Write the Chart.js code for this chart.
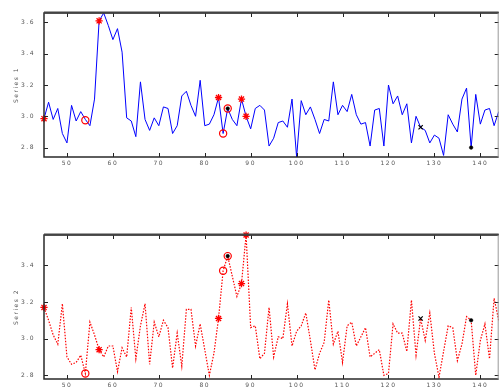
<!DOCTYPE html>
<html><head><meta charset="utf-8">
<script src="https://cdn.jsdelivr.net/npm/chart.js@4/dist/chart.umd.min.js"></script>
<style>
html,body{margin:0;padding:0;background:#fff;}
#wrap{position:relative;width:504px;height:392px;}
.c{position:absolute;left:0;width:504px;height:196px;}
</style></head>
<body><div id="wrap">
<div class="c" style="top:0"><canvas id="c1" width="504" height="196"></canvas></div>
<div class="c" style="top:196px"><canvas id="c2" width="504" height="196"></canvas></div>
</div>
<script>
// ---- data ----
const xValues = [45,46,47,48,49,50,51,52,53,54,55,56,57,58,59,60,61,62,63,64,65,66,67,68,69,70,71,72,73,74,75,76,77,78,79,80,81,82,83,84,85,86,87,88,89,90,91,92,93,94,95,96,97,98,99,100,101,102,103,104,105,106,107,108,109,110,111,112,113,114,115,116,117,118,119,120,121,122,123,124,125,126,127,128,129,130,131,132,133,134,135,136,137,138,139,140,141,142,143,144];
const series1 = [2.985,3.09,2.98,3.05,2.89,2.83,3.07,2.97,3.03,2.98,2.94,3.11,3.61,3.66,3.58,3.49,3.56,3.41,2.99,2.97,2.87,3.22,2.98,2.91,2.99,2.94,3.06,3.05,2.89,2.94,3.13,3.16,3.07,3.00,3.23,2.94,2.95,3.01,3.12,2.89,3.05,2.98,2.94,3.11,3.00,2.92,3.05,3.07,3.04,2.81,2.86,2.96,2.97,2.93,3.11,2.74,3.10,3.01,3.06,2.98,2.89,2.98,2.97,3.22,3.01,3.07,3.03,3.14,3.01,2.95,2.96,2.81,3.04,3.05,2.81,3.20,3.08,3.13,3.01,3.08,2.83,3.00,2.93,2.91,2.83,2.88,2.86,2.75,3.01,2.95,2.90,3.11,3.18,2.80,3.14,2.95,3.04,3.05,2.94,3.03];
const series2 = [3.17,3.10,3.02,2.97,3.19,2.90,2.86,2.87,2.91,2.81,3.09,3.02,2.94,2.90,2.96,2.96,2.82,2.95,2.90,3.17,2.89,3.07,3.19,2.86,3.09,3.01,3.10,3.06,2.84,3.03,2.85,3.16,3.16,2.96,3.08,2.94,2.80,2.92,3.11,3.37,3.45,3.34,3.23,3.30,3.565,3.06,3.07,2.89,2.92,3.17,2.90,3.01,3.00,3.19,2.96,3.04,3.07,3.14,2.99,2.83,2.92,2.98,3.21,2.97,3.04,2.87,3.07,3.09,2.96,3.01,3.06,2.90,2.92,2.94,2.80,2.81,3.08,3.03,3.03,2.93,3.21,2.91,3.11,2.99,3.14,2.92,2.79,2.93,3.07,3.06,2.88,2.97,3.12,3.10,2.80,2.99,3.08,2.89,3.22,3.10];
const xTickValues = [50,60,70,80,90,100,110,120,130,140];
const y1TickValues = [2.8,3.0,3.2,3.4,3.6];
const y2TickValues = [2.8,3.0,3.2,3.4];
// markers: [x, y]
const s1Stars = [[45,2.985],[57,3.61],[83,3.12],[88,3.11],[89,3.00]];
const s1Circles = [[54,2.975],[84,2.89],[85,3.05]];
const s1Dots = [[85,3.05],[138,2.80]];
const s1Crosses = [[127,2.93]];
const s2Stars = [[45,3.17],[57,2.94],[83,3.11],[88,3.30],[89,3.565]];
const s2Circles = [[54,2.81],[84,3.37],[85,3.45]];
const s2Dots = [[85,3.45],[138,3.10]];
const s2Crosses = [[127,3.11]];

const pts = (xs, ys) => xs.map((x,i)=>({x:x,y:ys[i]}));
const mk = a => a.map(p=>({x:p[0],y:p[1]}));

const FONT = {family:'"DejaVu Sans", sans-serif', size:6};

const framePlugin = {
  id:'frame',
  beforeDraw(chart){ chart.ctx.letterSpacing = '1.5px'; },
  afterDraw(chart){
    const ctx = chart.ctx, a = chart.chartArea;
    const xs = chart.scales.x, ys = chart.scales.y;
    ctx.save();
    ctx.strokeStyle = '#222';
    ctx.lineWidth = 1;
    ctx.beginPath();
    xTickValues.forEach(v=>{
      const px = Math.round(xs.getPixelForValue(v))+0.5;
      ctx.moveTo(px,a.top); ctx.lineTo(px,a.top+4);
      ctx.moveTo(px,a.bottom); ctx.lineTo(px,a.bottom-4);
    });
    chart.options.plugins.frame.yTicks.forEach(v=>{
      const py = Math.round(ys.getPixelForValue(v))+0.5;
      ctx.moveTo(a.left,py); ctx.lineTo(a.left+4,py);
      ctx.moveTo(a.right,py); ctx.lineTo(a.right-4,py);
    });
    ctx.stroke();
    ctx.lineWidth = 1.5;
    ctx.strokeStyle = '#2a2a2a';
    ctx.beginPath();
    ctx.moveTo(a.right,a.top); ctx.lineTo(a.left,a.top); ctx.lineTo(a.left,a.bottom); ctx.lineTo(a.right,a.bottom);
    ctx.stroke();
    ctx.lineWidth = 2;
    ctx.strokeStyle = '#444';
    ctx.beginPath();
    ctx.moveTo(a.left,a.top-0.5); ctx.lineTo(a.right,a.top-0.5);
    ctx.stroke();
    ctx.lineWidth = 1;
    ctx.strokeStyle = '#999';
    ctx.beginPath();
    ctx.moveTo(a.right-0.5,a.top); ctx.lineTo(a.right-0.5,a.bottom);
    ctx.stroke();
    ctx.restore();
  }
};

function makeChart(id, data, lineStyle, markers, yMin, yMax, yTicks, title, padTop, xAxisH){
  const datasets = [
    Object.assign({data:pts(xValues,data), pointRadius:0, tension:0, fill:false, order:5}, lineStyle),
    {data:mk(markers.stars), showLine:false, pointStyle:'star', pointRadius:3.6, borderColor:'#ff0000', borderWidth:1.3, backgroundColor:'#ff0000', clip:false, order:1},
    {data:mk(markers.circles), showLine:false, pointStyle:'circle', pointRadius:3.6, borderColor:'#ff0000', borderWidth:1.2, backgroundColor:'rgba(0,0,0,0)', clip:false, order:2},
    {data:mk(markers.dots), showLine:false, pointStyle:'circle', pointRadius:1.8, borderColor:'#000', borderWidth:0.5, backgroundColor:'#000', clip:false, order:0},
    {data:mk(markers.crosses), showLine:false, pointStyle:'crossRot', pointRadius:3, borderColor:'#000', borderWidth:1.2, clip:false, order:0}
  ];
  return new Chart(document.getElementById(id), {
    type:'line',
    data:{datasets},
    plugins:[framePlugin],
    options:{
      responsive:false, animation:false, devicePixelRatio:1,
      layout:{padding:{top:padTop, right:1, left:0, bottom:0}},
      plugins:{legend:{display:false}, tooltip:{enabled:false}, frame:{yTicks:yTicks}},
      scales:{
        x:{type:'linear', min:45, max:144,
           afterBuildTicks(s){ s.ticks = xTickValues.map(v=>({value:v})); },
           afterFit(s){ s.height = xAxisH; },
           grid:{display:false, drawTicks:false}, border:{display:false},
           ticks:{font:FONT, color:'#555', padding:3, maxRotation:0, autoSkip:false, callback:v=>String(v)}},
        y:{type:'linear', min:yMin, max:yMax,
           afterBuildTicks(s){ s.ticks = yTicks.map(v=>({value:v})); },
           afterFit(s){ s.width = 44; },
           grid:{display:false, drawTicks:false}, border:{display:false},
           ticks:{font:FONT, color:'#555', padding:9, autoSkip:false, callback:v=>v.toFixed(1)},
           title:{display:true, text:title, font:FONT, color:'#555', padding:{top:13,bottom:0}}}
      }
    }
  });
}

makeChart('c1', series1, {borderColor:'#0000ff', borderWidth:1},
  {stars:s1Stars, circles:s1Circles, dots:s1Dots, crosses:s1Crosses},
  2.74, 3.66, y1TickValues, 'Series 1', 13, 39);
makeChart('c2', series2, {borderColor:'#ff0000', borderWidth:1.2, borderDash:[1.5,1.5]},
  {stars:s2Stars, circles:s2Circles, dots:s2Dots, crosses:s2Crosses},
  2.78, 3.565, y2TickValues, 'Series 2', 39, 13);
</script>
</body></html>
